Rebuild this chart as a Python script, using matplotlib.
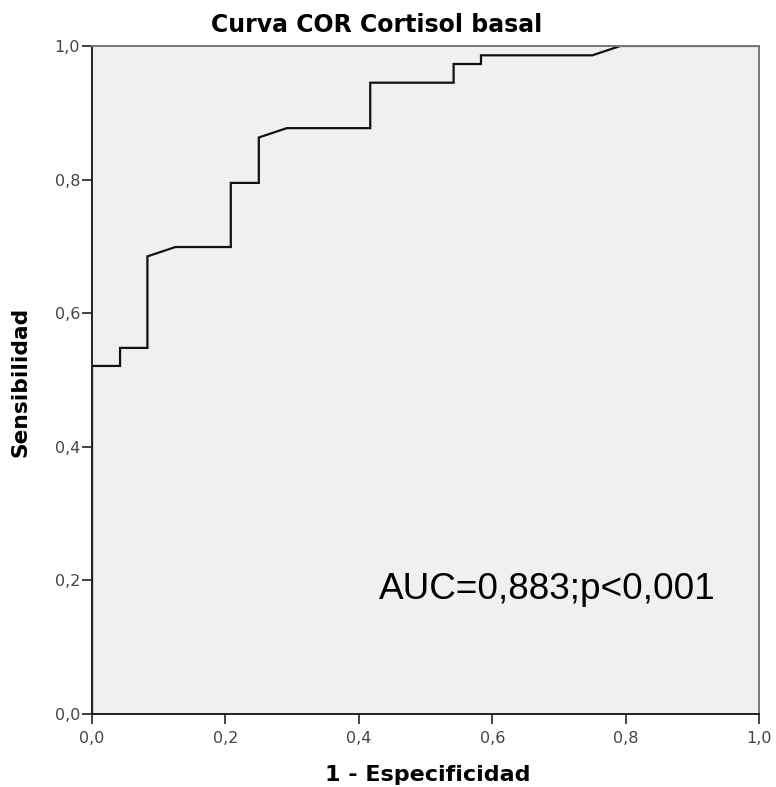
import matplotlib
matplotlib.use("Agg")
import matplotlib.pyplot as plt
from matplotlib.ticker import FuncFormatter

# ROC curve points
fpr = [0.0, 0.0, 0.042, 0.042, 0.083, 0.083, 0.125, 0.208, 0.208, 0.25, 0.25,
       0.292, 0.417, 0.417, 0.542, 0.542, 0.583, 0.583, 0.75, 0.792, 1.0]
tpr = [0.0, 0.521, 0.521, 0.548, 0.548, 0.685, 0.699, 0.699, 0.795, 0.795, 0.863,
       0.877, 0.877, 0.945, 0.945, 0.973, 0.973, 0.986, 0.986, 1.0, 1.0]
ticks = [0.0, 0.2, 0.4, 0.6, 0.8, 1.0]

title = "Curva COR Cortisol basal"
xlabel = "1 - Especificidad"
ylabel = "Sensibilidad"
note = "AUC=0,883;p<0,001"

fig = plt.figure(figsize=(7.76, 7.87), dpi=100)
ax = fig.add_axes([0.1186, 0.0928, 0.8597, 0.8488])
ax.set_facecolor("#f0f0f0")

ax.plot(fpr, tpr, color="#111111", lw=1.6, solid_joinstyle="miter")

ax.set_xlim(0, 1)
ax.set_ylim(0, 1)
ax.set_xticks(ticks)
ax.set_yticks(ticks)
fmt = FuncFormatter(lambda v, p: f"{v:.1f}".replace(".", ","))
ax.xaxis.set_major_formatter(fmt)
ax.yaxis.set_major_formatter(fmt)
ax.tick_params(direction="out", length=7.5, width=1.2, colors="#222222",
               labelcolor="#444444", labelsize=11.5)
ax.tick_params(axis="x", pad=5)
ax.tick_params(axis="y", pad=1)

for side in ["left", "bottom"]:
    ax.spines[side].set_color("#222222")
    ax.spines[side].set_linewidth(1.4)
for side in ["top", "right"]:
    ax.spines[side].set_color("#777777")
    ax.spines[side].set_linewidth(1.4)

fig.text(0.485, 0.968, title, ha="center", va="center", fontsize=17,
         fontweight="bold")
fig.text(0.551, 0.015, xlabel, ha="center", va="center", fontsize=16,
         fontweight="bold")
fig.text(0.027, 0.515, ylabel, ha="center", va="center", fontsize=15.7,
         fontweight="bold", rotation=90)

ax.text(0.43, 0.187, note, ha="left", va="center", fontsize=26.6,
        family=["Liberation Sans", "DejaVu Sans"])

fig.savefig("out.png", dpi=100)
